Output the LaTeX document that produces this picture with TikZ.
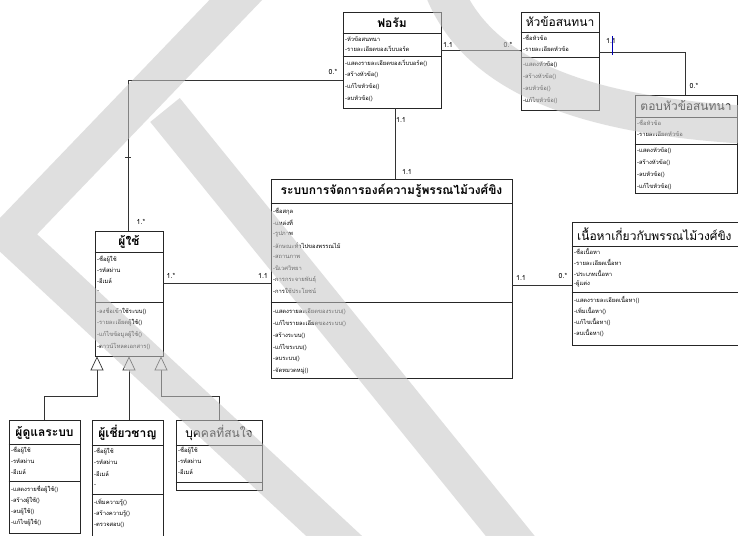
\documentclass[tikz,border=0pt]{standalone}
\usepackage{fontspec}
\setmainfont{Loma}[Script=Thai]
\usetikzlibrary{fit,calc,arrows.meta}
\tikzset{
  cls/.style={draw=black!85, line width=0.8pt, inner sep=0pt, fill=white},
  sepline/.style={draw=black!85, line width=0.8pt},
  ttl/.style={font=\fontsize{12}{12}\selectfont, inner sep=0pt},
  ttlb/.style={font=\bfseries\fontsize{12}{12}\selectfont, inner sep=0pt},
  itm/.style={font=\fontsize{5.8}{6}\selectfont, anchor=west, inner sep=0pt},
  conn/.style={draw=black!80, line width=0.7pt},
  gen/.style={draw=black!80, line width=0.7pt, -{Triangle[open, length=14pt, width=13pt, fill=white]}},
  mult/.style={font=\fontsize{7}{8}\selectfont, inner sep=0pt},
  wm/.style={draw=gray!45, line width=38pt, opacity=0.55, line join=round}
}
% #1 name, #2 x1, #3 y1, #4 x2, #5 y2, #6 header bottom, #7 attribute bottom
\newcommand\umlbox[7]{%
  \node[cls, fit={(#2,#3) (#4,#5)}] (#1) {};
  \draw[sepline] (#1.west |- 0,#6) -- (#1.east |- 0,#6);
  \draw[sepline] (#1.west |- 0,#7) -- (#1.east |- 0,#7);
}
% #1 name prefix, #2 x, #3 first y, #4 step, #5 list
\newcommand\umlitems[5]{%
  \foreach \t [count=\i] in {#5} {\node[itm] (#1-\i) at ({#2},{#3+(\i-1)*#4}) {\t};}
}
\begin{document}
\begin{tikzpicture}[x=1pt,y=-1pt]
\clip (0,0) rectangle (738,535);
\fill[white] (0,0) rectangle (738,535);

% ---------- classes ----------
% Forum
\umlbox{forum}{343}{12}{441}{108}{33}{56}
\node[ttlb] (forum-t) at (392,22.5) {ฟอรัม};
\umlitems{forum-a}{345}{39}{10}{-หัวข้อสนทนา,-รายละเอียดของเว็บบอร์ด}
\umlitems{forum-m}{345}{63}{12}{-แสดงรายละเอียดของเว็บบอร์ด(),-สร้างหัวข้อ(),-แก้ไขหัวข้อ(),-ลบหัวข้อ()}

% Topic
\umlbox{topic}{521}{12}{599}{110}{32}{57}
\node[ttl] (topic-t) at (560,22) {หัวข้อสนทนา};
\umlitems{topic-a}{523}{38}{11}{-ชื่อหัวข้อ,-รายละเอียดหัวข้อ}
\umlitems{topic-m}{523}{65}{12}{-แสดงหัวข้อ(),-สร้างหัวข้อ(),-ลบหัวข้อ(),-แก้ไขหัวข้อ()}

% Reply
\umlbox{reply}{635}{95}{737}{193}{117}{144}
\node[ttl] (reply-t) at (686,106) {ตอบหัวข้อสนทนา};
\umlitems{reply-a}{637}{123}{11}{-ชื่อหัวข้อ,-รายละเอียดหัวข้อ}
\umlitems{reply-m}{637}{151}{12}{-แสดงหัวข้อ(),-สร้างหัวข้อ(),-ลบหัวข้อ(),-แก้ไขหัวข้อ()}

% System
\umlbox{sys}{271}{179}{512}{378}{203}{302}
\node[ttlb] (sys-t) at (391.5,191) {ระบบการจัดการองค์ความรู้พรรณไม้วงศ์ขิง};
\umlitems{sys-a}{273}{211}{11.4}{-ชื่อสกุล,-แหล่งที่,-รูปภาพ,-ลักษณะทั่วไปของพรรณไม้,-สถานภาพ,-นิเวศวิทยา,-การกระจายพันธุ์,-การใช้ประโยชน์}
\umlitems{sys-m}{273}{312}{11.8}{-แสดงรายละเอียดของระบบ(),-แก้ไขรายละเอียดของระบบ(),-สร้างระบบ(),-แก้ไขระบบ(),-ลบระบบ(),-จัดหมวดหมู่()}

% Content
\umlbox{content}{572}{222}{760}{345}{246}{292}
\node[ttl, anchor=west] (content-t) at (577,234) {เนื้อหาเกี่ยวกับพรรณไม้วงศ์ขิง};
\umlitems{content-a}{574}{251}{11}{-ชื่อเนื้อหา,-รายละเอียดเนื้อหา,-ประเภทเนื้อหา,-ผู้แต่ง}
\umlitems{content-m}{574}{300}{11}{-แสดงรายละเอียดเนื้อหา(),-เพิ่มเนื้อหา(),-แก้ไขเนื้อหา(),-ลบเนื้อหา()}

% User
\umlbox{user}{95}{231}{163}{356}{252}{302}
\node[ttlb] (user-t) at (129,242) {ผู้ใช้};
\umlitems{user-a}{97}{259}{11}{-ชื่อผู้ใช้,-รหัสผ่าน,-อีเมล์,-}
\umlitems{user-m}{97}{311}{11.7}{-ลงชื่อเข้าใช้ระบบ(),-รายละเอียดผู้ใช้(),-แก้ไขข้อมูลผู้ใช้(),-ดาวน์โหลดเอกสาร()}

% Admin
\umlbox{admin}{9}{420}{80}{533}{444}{481}
\node[ttlb] (admin-t) at (44.5,433) {ผู้ดูแลระบบ};
\umlitems{admin-a}{11}{450}{11}{-ชื่อผู้ใช้,-รหัสผ่าน,-อีเมล์}
\umlitems{admin-m}{11}{489}{11.2}{-แสดงรายชื่อผู้ใช้(),-สร้างผู้ใช้(),-ลบผู้ใช้(),-แก้ไขผู้ใช้()}

% Expert
\umlbox{expert}{92}{420}{163}{545}{445}{494}
\node[ttlb] (expert-t) at (127.5,433) {ผู้เชี่ยวชาญ};
\umlitems{expert-a}{94}{451}{11.5}{-ชื่อผู้ใช้,-รหัสผ่าน,-อีเมล์,-}
\umlitems{expert-m}{94}{502}{11.5}{-เพิ่มความรู้(),-สร้างความรู้(),-ตรวจสอบ()}

% Interested person
\umlbox{person}{176}{420}{262}{490}{445}{482}
\node[ttl] (person-t) at (219,433) {บุคคลที่สนใจ};
\umlitems{person-a}{178}{450}{11}{-ชื่อผู้ใช้,-รหัสผ่าน,-อีเมล์}

% ---------- associations ----------
\draw[conn] (forum.east |- 0,50) -- (topic.west |- 0,50);
\node[mult] (m1) at (448,45) {1.1};
\node[mult] (m2) at (508,45) {0.*};

\coordinate (c1) at (685,52);
\draw[conn] (topic.east |- 0,52) -- (c1) -- (c1 |- reply.north);
\node[mult] (m3) at (611,41) {1.1};
\draw[blue!70!black, line width=0.6pt] (612,36) -- (612,55);
\node[mult] (m4) at (694,86) {0.*};

\coordinate (c2) at (128,80);
\draw[conn] (forum.west |- c2) -- (c2) -- (c2 |- user.north);
\draw[conn] (125,157) -- (131,157);
\node[mult] (m5) at (333,72) {0.*};
\node[mult] (m6) at (141,222) {1.*};

\draw[conn] (forum.south -| 395,0) -- (sys.north -| 395,0);
\node[mult] (m7) at (401,120) {1.1};
\node[mult] (m8) at (407,172) {1.1};

\draw[conn] (user.east |- 0,283) -- (sys.west |- 0,283);
\node[mult] (m9) at (171,276) {1.*};
\node[mult] (m10) at (263,276) {1.1};

\draw[conn] (sys.east |- 0,285) -- (content.west |- 0,285);
\node[mult] (m11) at (521,278) {1.1};
\node[mult] (m12) at (563,276) {0.*};

% ---------- generalisations ----------
\draw[gen] (admin.north) |- (97,396) -- (user.south -| 97,0);
\draw[gen] (expert.north -| 129,0) -- (user.south -| 129,0);
\draw[gen] (person.north) |- (161,396) -- (user.south -| 161,0);

% ---------- watermark ----------
\draw[wm] (255,-20) -- (10,235) -- (360,560)
          (165,110) -- (520,548)
          (440,-20) .. controls (470,70) and (570,115) .. (750,125);
\end{tikzpicture}
\end{document}
